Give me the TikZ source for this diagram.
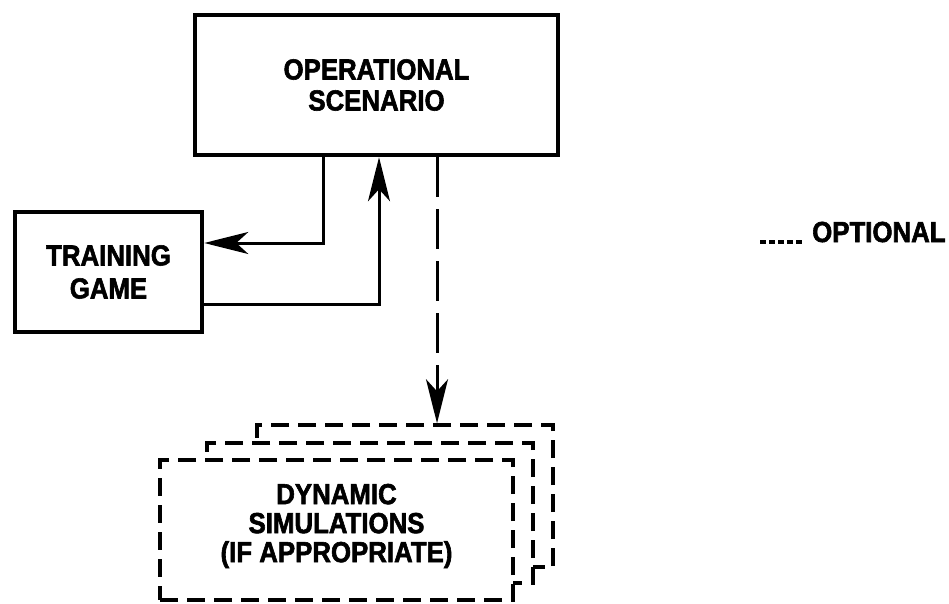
\documentclass[tikz,border=0pt]{standalone}
\usepackage{fontspec}
\newfontfamily\lblfont[FakeStretch=0.89, BoldFeatures={FakeBold=2}]{Liberation Sans}
\usetikzlibrary{arrows.meta,positioning}

\begin{document}
\begin{tikzpicture}[x=1pt,y=-1pt,
		lbl/.style={font=\lblfont\bfseries\fontsize{29}{31}\selectfont, align=center},
		blockbox/.style={lbl, draw, line width=4.5pt, inner sep=0pt},
		simbox/.style={lbl, draw, fill=white, line width=3.5pt, dash pattern=on 18pt off 9pt, inner sep=0pt, minimum height=140pt},
		conn/.style={line width=3pt, -{Stealth[length=44pt 0,width=22pt 0,inset=12pt 0]}},
		optconn/.style={conn, dash pattern=on 40pt off 12pt}
	]
				\useasboundingbox (0,0) rectangle (949,604);
				
				\node [blockbox, minimum width=363pt, minimum height=140pt] (ops) at (376.5,85) {OPERATIONAL\\SCENARIO};
				\node [blockbox, minimum width=187pt, minimum height=120pt, font=\lblfont\bfseries\fontsize{29}{33}\selectfont] (train) at (108.5,272) {TRAINING\\GAME};
				
				% stacked simulation boxes, back to front
				\node [simbox, minimum width=296pt, minimum height=142pt] (sim3) at (405,496) {};
				\node [simbox, minimum width=326pt] (sim2) at (370,513) {};
				\node [simbox, minimum width=353pt, font=\lblfont\bfseries\fontsize{29}{29}\selectfont] (sim) at (336.5,530) {DYNAMIC\\SIMULATIONS\\(IF APPROPRIATE)\\[-15pt]\mbox{}};
				
				\draw [conn] ([xshift=-53.5pt]ops.south) |- ([yshift=29pt]train.east);
				\draw [conn] ([yshift=-32pt]train.east) -| ([xshift=2.5pt]ops.south);
				\draw [optconn] ([xshift=60.5pt]ops.south) -- ([xshift=32pt]sim3.north);
				
				% % % % % % % % % % % % % % % % % % % % % % % % % %
				
				\node [lbl, anchor=base west, inner sep=0pt] (opt) at (812,242) {OPTIONAL};
				\coordinate (legstart) at (760,242);
				\draw [line width=3.5pt, dash pattern=on 6pt off 3pt] (legstart) -- ([xshift=-9pt]opt.base west);
				\end{tikzpicture}
\end{document}
